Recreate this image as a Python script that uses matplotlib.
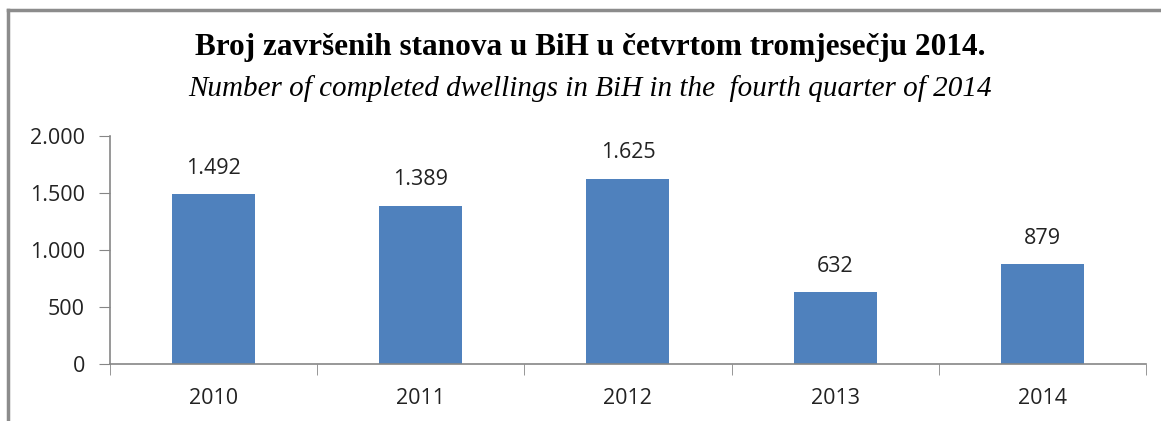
import matplotlib.pyplot as plt
from matplotlib.lines import Line2D
from matplotlib.ticker import FuncFormatter

years = ['2010', '2011', '2012', '2013', '2014']
dwellings = [1492, 1389, 1625, 632, 879]
y_ticks = [0, 500, 1000, 1500, 2000]

title = 'Broj završenih stanova u BiH u četvrtom tromjesečju 2014.'
subtitle = 'Number of completed dwellings in BiH in the  fourth quarter of 2014'


def dot_thousands(v, pos=None):
    return f'{int(v):,}'.replace(',', '.')


fig = plt.figure(figsize=(11.61, 4.21), dpi=100)
ax = fig.add_axes([0.0947, 0.1354, 0.8923, 0.5416])

bar_color = '#4F81BD'
axis_color = '#868686'
ticks_font = 'Open Sans'
fs = 15.5

x = range(len(years))
ax.bar(x, dwellings, width=0.4, color=bar_color, zorder=2)

for xi, v in zip(x, dwellings):
    ax.annotate(dot_thousands(v), (xi, v), xytext=(0, 11), textcoords='offset points',
                ha='center', va='bottom', fontsize=fs, family=ticks_font, color='#222222')

ax.set_xlim(-0.5, len(years) - 0.5)
ax.set_ylim(0, 2000)
ax.set_yticks(y_ticks)
ax.yaxis.set_major_formatter(FuncFormatter(dot_thousands))

ax.set_xticks(list(x))
ax.set_xticklabels(years)
ax.set_xticks([i - 0.5 for i in range(len(years) + 1)], minor=True)
ax.tick_params(axis='x', which='major', length=0, pad=17)
ax.tick_params(axis='x', which='minor', length=8, color=axis_color, direction='out')
ax.tick_params(axis='y', length=8, color=axis_color, direction='out', pad=10)

for lbl in ax.get_xticklabels() + ax.get_yticklabels():
    lbl.set_fontsize(fs)
    lbl.set_family(ticks_font)
    lbl.set_color('#222222')

for side in ['top', 'right']:
    ax.spines[side].set_visible(False)
for side in ['left', 'bottom']:
    ax.spines[side].set_color(axis_color)
    ax.spines[side].set_linewidth(1.2)

fig.text(0.508, 0.886, title, ha='center', va='center', fontsize=22.5,
         fontweight='bold', family='Liberation Serif')
fig.text(0.508, 0.790, subtitle, ha='center', va='center', fontsize=21,
         style='italic', family='Liberation Serif')

# outer chart frame (right and bottom edges are cut off in the original)
fig.add_artist(Line2D([0.007, 1.0], [0.976, 0.976], transform=fig.transFigure,
                      color='#8c8c8c', linewidth=2.5))
fig.add_artist(Line2D([0.007, 0.007], [0.0, 0.976], transform=fig.transFigure,
                      color='#8c8c8c', linewidth=2.5))

fig.savefig('out.png', dpi=100)
